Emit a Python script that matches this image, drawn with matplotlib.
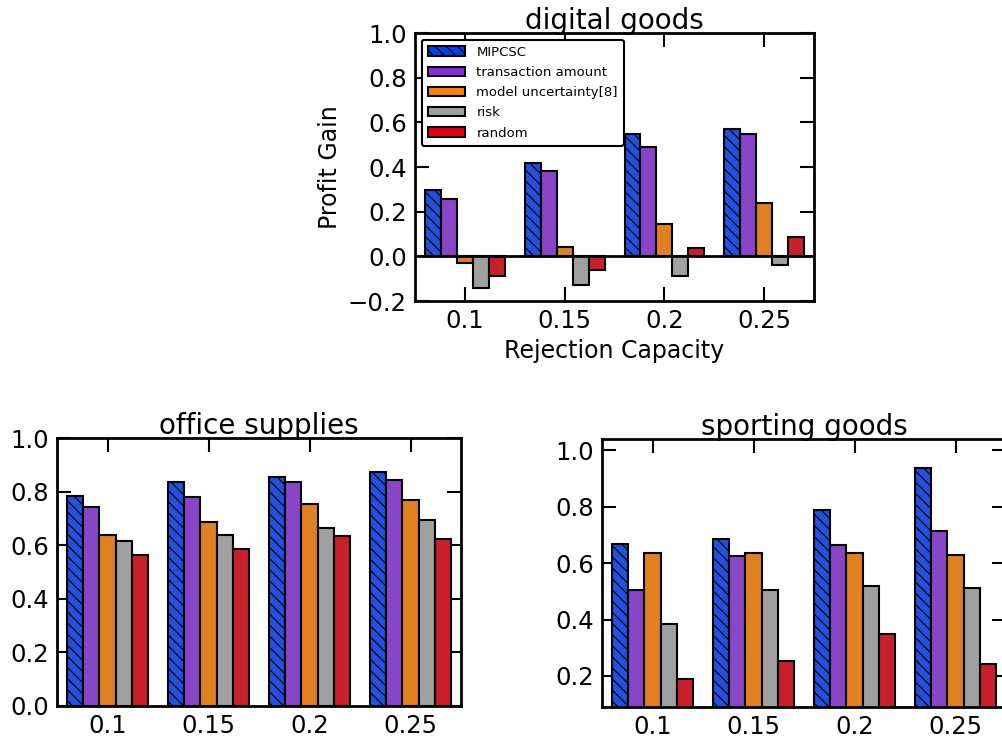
import matplotlib
matplotlib.use("Agg")
import matplotlib.pyplot as plt
import numpy as np
from matplotlib.patches import Patch

capacities = ["0.1", "0.15", "0.2", "0.25"]
methods = ["MIPCSC", "transaction amount", "model uncertainty[8]", "risk", "random"]

digital = {
    "MIPCSC": [0.298, 0.419, 0.547, 0.571],
    "transaction amount": [0.255, 0.384, 0.490, 0.547],
    "model uncertainty[8]": [-0.030, 0.040, 0.143, 0.238],
    "risk": [-0.143, -0.128, -0.090, -0.038],
    "random": [-0.087, -0.060, 0.036, 0.086],
}
office = {
    "MIPCSC": [0.784, 0.834, 0.853, 0.874],
    "transaction amount": [0.743, 0.781, 0.834, 0.844],
    "model uncertainty[8]": [0.638, 0.686, 0.753, 0.769],
    "risk": [0.616, 0.639, 0.666, 0.694],
    "random": [0.563, 0.584, 0.634, 0.624],
}
sporting = {
    "MIPCSC": [0.668, 0.684, 0.789, 0.939],
    "transaction amount": [0.506, 0.627, 0.666, 0.714],
    "model uncertainty[8]": [0.635, 0.637, 0.635, 0.629],
    "risk": [0.383, 0.506, 0.519, 0.512],
    "random": [0.191, 0.252, 0.350, 0.241],
}

bar_colors = ["#2350DC", "#8845C8", "#E08020", "#A0A0A0", "#C8202A"]
legend_colors = ["#0040F0", "#8A2BE2", "#FF7F00", "#A0A0A0", "#E00010"]
hatches = ["\\\\\\", None, None, None, None]

plt.rcParams["hatch.linewidth"] = 0.8
plt.rcParams["font.family"] = ["DejaVu Sans"]

fig = plt.figure(figsize=(10.02, 7.38), dpi=100)

def draw(ax, data, title, ylim, yticks, zero_line=False):
    x = np.arange(len(capacities))
    w = 0.16
    for i, m in enumerate(methods):
        ax.bar(x - 0.4 + w * i + w / 2, data[m], width=w, color=bar_colors[i],
               edgecolor="black", linewidth=1.5, hatch=hatches[i], zorder=2)
    if zero_line:
        ax.axhline(0, color="black", linewidth=2, zorder=3)
    ax.set_xlim(-0.5, 3.5)
    ax.set_ylim(*ylim)
    ax.set_xticks(x)
    ax.set_xticklabels(capacities)
    ax.set_yticks(yticks)
    ax.set_yticklabels([("\u2212" if t < 0 else "") + f"{abs(t):.1f}" for t in yticks])
    ax.tick_params(direction="in", length=10, width=1.5, top=True, right=True,
                   labelsize=17.5, pad=6)
    for s in ax.spines.values():
        s.set_linewidth(2)
    ax.set_title(title, fontsize=20, pad=3)

ax1 = fig.add_axes([0.4142, 0.5921, 0.3982, 0.3631])
draw(ax1, digital, "digital goods", (-0.2, 1.0), [-0.2, 0.0, 0.2, 0.4, 0.6, 0.8, 1.0], zero_line=True)
ax1.set_xlabel("Rejection Capacity", fontsize=17)
ax1.set_ylabel("Profit Gain", fontsize=17, labelpad=4)
handles = [Patch(facecolor=legend_colors[i], edgecolor="black", linewidth=1.5,
                 hatch=hatches[i]) for i in range(len(methods))]
leg = ax1.legend(handles, methods, loc="upper left", fontsize=9.5, fancybox=True,
                 framealpha=1, edgecolor="black", borderaxespad=0.5,
                 handlelength=2.8, handleheight=0.7, labelspacing=0.55,
                 borderpad=0.45, handletextpad=0.9)
leg.get_frame().set_linewidth(1.5)
leg.set_zorder(5)

ax2 = fig.add_axes([0.0569, 0.0434, 0.4032, 0.3631])
draw(ax2, office, "office supplies", (0.0, 1.0), [0.0, 0.2, 0.4, 0.6, 0.8, 1.0])

ax3 = fig.add_axes([0.6008, 0.0420, 0.4032, 0.3631])
draw(ax3, sporting, "sporting goods", (0.09, 1.04), [0.2, 0.4, 0.6, 0.8, 1.0])

fig.savefig("out.png", dpi=100)
